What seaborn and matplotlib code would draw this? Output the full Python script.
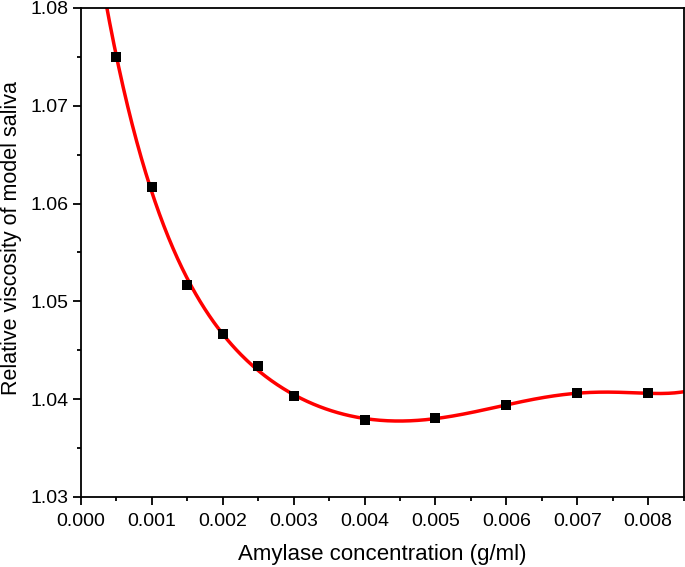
import matplotlib
matplotlib.use("Agg")
import matplotlib.pyplot as plt
import numpy as np
import pandas as pd
import seaborn as sns
from matplotlib.ticker import MultipleLocator, FormatStrFormatter

amylase = [0.0005, 0.001, 0.0015, 0.002, 0.0025, 0.003, 0.004, 0.005, 0.006, 0.007, 0.008]
viscosity = [1.0750, 1.0617, 1.0517, 1.0467, 1.0434, 1.0403, 1.0379, 1.0381, 1.0394, 1.0406, 1.0406]

X_LABEL = "Amylase concentration (g/ml)"
Y_LABEL = "Relative viscosity of model saliva"


def main() -> None:
    sns.set_theme(style="ticks")
    plt.rcParams["font.family"] = ["Liberation Sans", "DejaVu Sans"]
    plt.rcParams["text.color"] = "black"
    plt.rcParams["axes.labelcolor"] = "black"

    points = pd.DataFrame({"x": amylase, "y": viscosity})
    # polynomial fit of the measured points, as in the source figure
    coef = np.polyfit(points["x"], points["y"], 6)
    xs = np.linspace(0.0, 0.0085, 400)
    fit = pd.DataFrame({"x": xs, "y": np.polyval(coef, xs)})

    fig = plt.figure(figsize=(6.85, 5.67), dpi=100)
    ax = fig.add_axes([0.118, 0.1235, 0.880, 0.8625])
    sns.lineplot(data=fit, x="x", y="y", color="#ff0000", linewidth=2.5, ax=ax)
    sns.scatterplot(data=points, x="x", y="y", marker="s", color="black", s=52,
                    edgecolor="black", linewidth=0, zorder=3, ax=ax)

    ax.set_xlim(0.0, 0.0085)
    ax.set_ylim(1.03, 1.08)
    ax.xaxis.set_major_locator(MultipleLocator(0.001))
    ax.xaxis.set_minor_locator(MultipleLocator(0.0005))
    ax.yaxis.set_major_locator(MultipleLocator(0.01))
    ax.yaxis.set_minor_locator(MultipleLocator(0.005))
    ax.xaxis.set_major_formatter(FormatStrFormatter("%.3f"))
    ax.yaxis.set_major_formatter(FormatStrFormatter("%.2f"))
    ax.tick_params(which="major", direction="out", length=5.5, width=1.3, labelsize=14,
                   colors="black", labelcolor="black")
    ax.tick_params(which="minor", direction="out", length=3.2, width=1.3, colors="black")
    ax.tick_params(axis="x", pad=6)
    for side in ax.spines.values():
        side.set_linewidth(1.3)
        side.set_color("black")
    ax.set_xlabel(X_LABEL, fontsize=16)
    ax.set_ylabel(Y_LABEL, fontsize=15.5)
    ax.xaxis.set_label_coords(0.5, -0.097)
    ax.yaxis.set_label_coords(-0.097, 0.53)

    fig.savefig("out.png", dpi=100)
    plt.close(fig)


if __name__ == "__main__":
    main()
